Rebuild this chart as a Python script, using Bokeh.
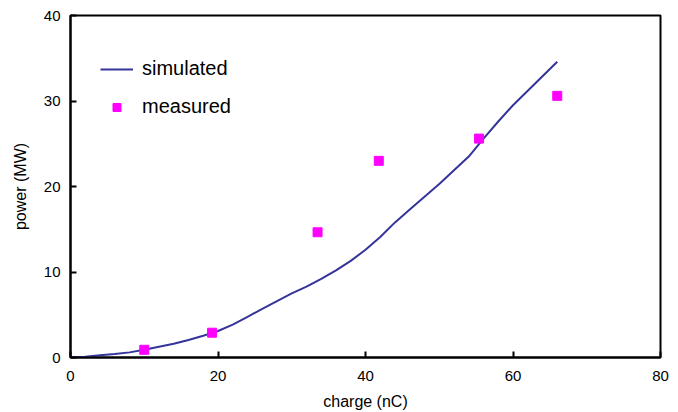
from bokeh.plotting import figure
from bokeh.models import Range1d, Legend, LegendItem, FixedTicker
from bokeh.embed import file_html
from bokeh.resources import INLINE

# simulated curve
sim_charge = [0, 2, 4, 6, 8, 10, 12, 14, 16, 18, 20, 22, 24, 26, 28, 30, 32, 34, 36,
              38, 40, 42, 44, 46, 48, 50, 52, 54, 56, 58, 60, 62, 64, 66]
sim_power = [0, 0.1, 0.25, 0.4, 0.6, 0.9, 1.25, 1.6, 2.05, 2.55, 3.1, 3.85, 4.75, 5.7, 6.6,
             7.5, 8.3, 9.2, 10.2, 11.3, 12.6, 14.1, 15.8, 17.3, 18.8, 20.3, 21.9, 23.5,
             25.6, 27.6, 29.5, 31.2, 32.9, 34.6]

# measured points
meas_charge = [10.0, 19.2, 33.5, 41.8, 55.4, 66.0]
meas_power = [0.9, 2.9, 14.65, 23.0, 25.6, 30.6]

x_ticks = [0, 20, 40, 60, 80]
y_ticks = [0, 10, 20, 30, 40]

FONT = "Liberation Sans"

p = figure(width=670, height=412, output_backend="svg", toolbar_location=None,
           x_range=Range1d(0, 80), y_range=Range1d(0, 40),
           min_border_left=70, min_border_right=10, min_border_top=15, min_border_bottom=55)

p.grid.visible = False
p.outline_line_color = "black"
p.outline_line_width = 2
p.background_fill_color = "white"
p.border_fill_color = "white"

line_r = p.line(sim_charge, sim_power, line_color="#34349a", line_width=2)
sq_r = p.scatter(meas_charge, meas_power, marker="square", size=9,
                 fill_color="#ff00ff", line_color="#ff00ff")

for ax, ticks in ((p.xaxis[0], x_ticks), (p.yaxis[0], y_ticks)):
    ax.ticker = FixedTicker(ticks=ticks)
    ax.minor_tick_line_color = None
    ax.major_tick_in = 6
    ax.major_tick_out = 0
    ax.major_tick_line_width = 2
    ax.major_tick_line_color = "black"
    ax.axis_line_width = 2
    ax.axis_line_color = "black"
    ax.major_label_text_font = FONT
    ax.major_label_text_font_size = "15px"
    ax.major_label_text_color = "black"
    ax.axis_label_text_font = FONT
    ax.axis_label_text_font_size = "16px"
    ax.axis_label_text_font_style = "normal"
    ax.axis_label_text_color = "black"

p.xaxis.axis_label = "charge (nC)"
p.yaxis.axis_label = "power (MW)"
p.xaxis.major_label_standoff = 13
p.xaxis.axis_label_standoff = 9
p.yaxis.major_label_standoff = 10
p.yaxis.axis_label_standoff = 12

legend = Legend(items=[LegendItem(label="simulated", renderers=[line_r]),
                       LegendItem(label="measured", renderers=[sq_r])],
                location=(30, 239), padding=0, margin=0, spacing=15,
                glyph_width=33, glyph_height=20, label_height=20, label_standoff=9,
                label_text_font=FONT, label_text_font_size="20px",
                label_text_color="black",
                border_line_color=None, background_fill_alpha=0)
p.add_layout(legend)

open("out.html", "w").write(file_html(p, INLINE))
